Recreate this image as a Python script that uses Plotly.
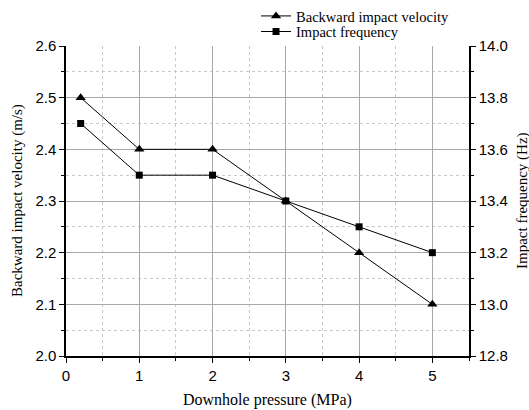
import plotly.graph_objects as go

# Downhole pressure (MPa)
pressure = [0.2, 1, 2, 3, 4, 5]
# Backward impact velocity (m/s)
velocity = [2.5, 2.4, 2.4, 2.3, 2.2, 2.1]
# Impact frequency (Hz)
frequency = [13.7, 13.5, 13.5, 13.4, 13.3, 13.2]

serif = "Liberation Serif"
sans = "Liberation Sans"

fig = go.Figure()
fig.add_trace(go.Scatter(
    x=pressure, y=velocity, name="Backward impact velocity",
    mode="lines+markers", line=dict(color="black", width=1),
    marker=dict(symbol="triangle-up", size=9, color="black"),
    yaxis="y", xaxis="x", legend="legend",
))
fig.add_trace(go.Scatter(
    x=pressure, y=frequency, name="Impact frequency",
    mode="lines+markers", line=dict(color="black", width=1),
    marker=dict(symbol="square", size=7, color="black"),
    yaxis="y2", xaxis="x", legend="legend2",
))

grid_major = "#a8a8a8"
grid_minor = "#c8c8c8"

legend_style = dict(
    xref="container", yref="container", xanchor="left", yanchor="top",
    font=dict(family=serif, size=14.5, color="black"),
    bgcolor="rgba(0,0,0,0)", itemwidth=30, borderwidth=0,
)

title_font = dict(family=serif, size=16, color="black")

# plot area in pixels: x 66..469, y 46..356
W, H = 403, 310

fig.update_layout(
    width=529, height=410,
    margin=dict(l=66, r=60, t=46, b=54, autoexpand=False),
    plot_bgcolor="white", paper_bgcolor="white",
    showlegend=True,
    legend=dict(x=0.484, y=1.006, **legend_style),
    legend2=dict(x=0.484, y=0.962, **legend_style),
    xaxis=dict(
        range=[0, 5.5], dtick=1, tick0=0,
        showline=True, linecolor="black", linewidth=1.5,
        ticks="outside", ticklen=5, tickcolor="black", tickwidth=1,
        tickfont=dict(family=sans, size=15, color="black"),
        showgrid=True, gridcolor=grid_major, gridwidth=1,
        zeroline=False,
        minor=dict(dtick=0.5, ticks="outside", ticklen=3, tickcolor="black",
                   showgrid=True, gridcolor=grid_minor, griddash="dot"),
    ),
    xaxis3=dict(
        range=[0, 5.5], dtick=1, tick0=0, overlaying="x", side="top", anchor="y",
        showline=True, linecolor="black", linewidth=1.5,
        ticks="inside", ticklen=5, tickcolor="black", showticklabels=False,
        showgrid=False, zeroline=False,
        minor=dict(dtick=0.5, ticks="inside", ticklen=3, tickcolor="black", showgrid=False),
    ),
    yaxis=dict(
        range=[2.0, 2.6], dtick=0.1, tick0=2.0, tickformat=".1f",
        showline=True, linecolor="black", linewidth=1.5,
        ticks="outside", ticklen=5, tickcolor="black",
        tickfont=dict(family=sans, size=15, color="black"),
        showgrid=True, gridcolor=grid_major, gridwidth=1,
        zeroline=False,
        minor=dict(dtick=0.05, ticks="outside", ticklen=3, tickcolor="black",
                   showgrid=True, gridcolor=grid_minor, griddash="dot"),
    ),
    yaxis2=dict(
        range=[12.8, 14.0], dtick=0.2, tick0=12.8, tickformat=".1f",
        overlaying="y", side="right", anchor="x",
        showline=True, linecolor="black", linewidth=1.5,
        ticks="outside", ticklen=5, tickcolor="black",
        tickfont=dict(family=sans, size=15, color="black"),
        showgrid=False, zeroline=False,
        minor=dict(dtick=0.1, ticks="outside", ticklen=3, tickcolor="black", showgrid=False),
    ),
    annotations=[
        dict(text="Downhole pressure (MPa)", xref="paper", yref="paper",
             x=0.5, y=(356 - 400) / H, xanchor="center", yanchor="middle",
             showarrow=False, font=title_font),
        dict(text="Backward impact velocity (m/s)", xref="paper", yref="paper",
             x=(17 - 66) / W, y=0.5, xanchor="center", yanchor="middle", textangle=-90,
             showarrow=False, font=dict(family=serif, size=15, color="black")),
        dict(text="Impact frequency (Hz)", xref="paper", yref="paper",
             x=(522 - 66) / W, y=0.5, xanchor="center", yanchor="middle", textangle=-90,
             showarrow=False, font=dict(family=serif, size=15, color="black")),
    ],
)

fig.write_html("out.html")
